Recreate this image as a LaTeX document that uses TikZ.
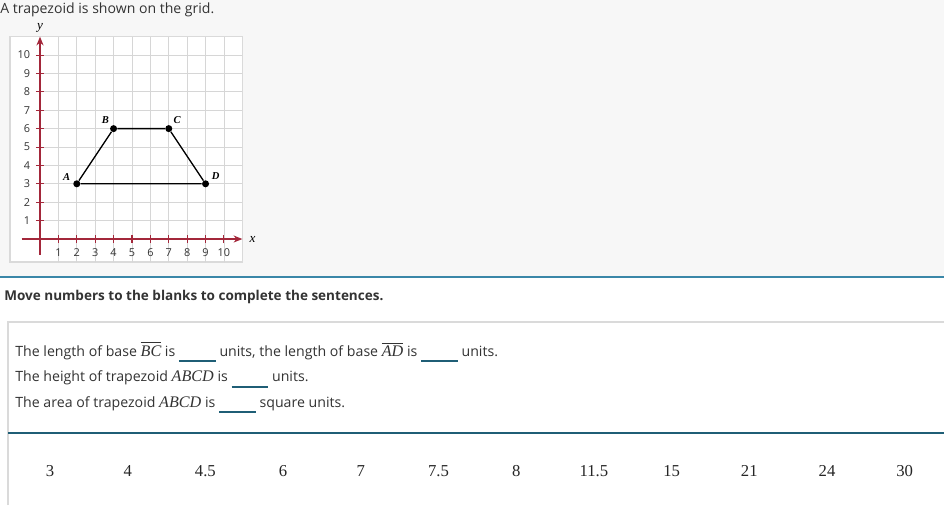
\documentclass[tikz,border=0pt]{standalone}
\usepackage{fontspec}
\setmainfont{Open Sans}
\newfontfamily\numfont{Liberation Serif}
\usetikzlibrary{arrows.meta}
\definecolor{topbg}{HTML}{F7F7F7}
\definecolor{sepblue}{HTML}{3A87A8}
\definecolor{darkteal}{HTML}{1F5E76}
\definecolor{boxgray}{HTML}{DADADA}
\definecolor{gridgray}{HTML}{D6D6D6}
\definecolor{axisred}{HTML}{A3273A}
\definecolor{txtgray}{HTML}{333333}
\newcommand\blankline{\textcolor{darkteal}{\rule[-3.6pt]{21pt}{1.1pt}}}
\newcommand\segname[1]{$\overline{\hbox{\numfont\itshape\fontsize{9.2}{11}\selectfont #1}}$}
\newcommand\polyname{{\numfont\itshape\fontsize{9.2}{11}\selectfont ABCD}}
\tikzset{
  sentence/.style={anchor=base west, inner sep=0pt, text=txtgray, font=\fontsize{8.05}{10}\selectfont},
  choice/.style={text=black!85, font=\numfont\fontsize{9.5}{11}\selectfont},
  ticklabel/.style={text=txtgray, font=\fontsize{6.2}{7}\selectfont, inner sep=1pt},
  vertex/.style={circle, fill=black, inner sep=0pt, minimum size=4pt},
  vlabel/.style={font=\numfont\bfseries\itshape\fontsize{6}{7}\selectfont, inner sep=1pt}
}
\begin{document}
\begin{tikzpicture}[x=0.02cm, y=-0.02cm]
  \useasboundingbox (0,0) rectangle (944,505);
  % page background and separators
  \fill[topbg] (0,0) rectangle (944,277);
  \fill[white] (0,278) rectangle (944,505);
  \draw[sepblue, line width=1.2pt] (0,277) -- (944,277);
  \draw[boxgray, line width=0.8pt] (8,505) -- (8,322) -- (944,322);
  \draw[darkteal, line width=0.6pt] (8,433) -- (944,433);

  \node[anchor=west, inner sep=0pt, text=txtgray, font=\fontsize{8}{10}\selectfont] (title) at (0,10)
    {A trapezoid is shown on the grid.};

  % the coordinate grid
  \begin{scope}[shift={(40,239)}, x=0.368cm, y=0.368cm]
    \draw[boxgray, fill=white, line width=0.8pt] (-1.63,-1.25) rectangle (11,11);
    \foreach \k in {1,...,10} {
      \draw[gridgray, line width=0.4pt] (\k,-1.25) -- (\k,11);
      \draw[gridgray, line width=0.4pt] (0,\k) -- (11,\k);
    }
    \draw[axisred, line width=0.6pt, -{Stealth[length=5pt,width=4pt]}] (0,-0.85) -- (0,11);
    \draw[axisred, line width=0.6pt, -{Stealth[length=5pt,width=4pt]}] (-1,0) -- (11,0);
    \foreach \k in {1,...,10} {
      \draw[axisred, line width=0.6pt] (-0.22,\k) -- (0.22,\k);
      \draw[axisred, line width=0.6pt] (\k,-0.22) -- (\k,0.22);
      \node[ticklabel, anchor=east] (y\k) at (-0.42,\k) {\k};
      \node[ticklabel, anchor=north] (x\k) at (\k,-0.4) {\k};
    }
    \node[font=\numfont\itshape\fontsize{7.5}{8}\selectfont] (ylab) at (0,11.5) {y};
    \node[font=\numfont\itshape\fontsize{7.5}{8}\selectfont] (xlab) at (11.55,0) {x};
    \node[vertex] (A) at (2,3) {};
    \node[vertex] (B) at (4,6) {};
    \node[vertex] (C) at (7,6) {};
    \node[vertex] (D) at (9,3) {};
    \draw[line width=0.75pt] (A) -- (B) -- (C) -- (D) -- (A);
    \node[vlabel] at (1.45,3.35) {A};
    \node[vlabel] at (3.55,6.45) {B};
    \node[vlabel] at (7.45,6.45) {C};
    \node[vlabel] at (9.55,3.4) {D};
  \end{scope}

  \node[anchor=west, inner sep=0pt, text=txtgray, font=\fontsize{7.7}{10}\selectfont\bfseries] (task) at (4,297)
    {Move numbers to the blanks to complete the sentences.};

  % sentences with blanks
  \node[sentence] (s1) at (15,356)
    {The length of base \segname{BC} is \blankline{} units, the length of base \segname{AD} is \blankline{} units.};
  \node[sentence] (s2) at (15,381.5)
    {The height of trapezoid \polyname{} is \blankline{} units.};
  \node[sentence] (s3) at (15,407)
    {The area of trapezoid \polyname{} is \blankline{} square units.};

  % number choices
  \foreach \v [count=\i] in {3,4,4.5,6,7,7.5,8,11.5,15,21,24,30}
    \node[choice] (n\i) at ({50+77.7*(\i-1)},471) {\v};
\end{tikzpicture}
\end{document}
